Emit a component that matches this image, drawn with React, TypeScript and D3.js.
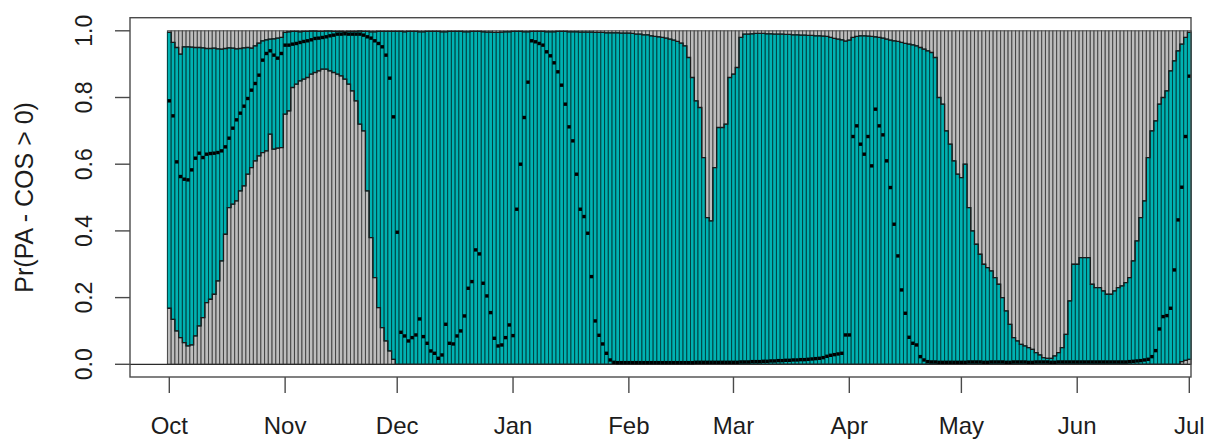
import React from 'react';
import * as d3 from 'd3';

// Daily values, 1 Oct -> 1 Jul (274 days)
const upper: number[] = [
  // Oct
  0.995, 0.965, 0.95, 0.93, 0.952, 0.952, 0.951, 0.95, 0.95, 0.949,
  0.947, 0.947, 0.948, 0.946, 0.945, 0.947, 0.949, 0.948, 0.946, 0.947,
  0.949, 0.95, 0.948, 0.955, 0.963, 0.97, 0.973, 0.975, 0.976, 0.978,
  0.98,
  // Nov
  0.995, 0.997, 0.998, 0.998, 0.997, 0.998, 0.998, 0.999, 0.999, 0.998,
  0.998, 0.999, 0.999, 0.998, 0.998, 0.998, 0.997, 0.998, 0.998, 0.998,
  0.999, 0.998, 0.998, 0.997, 0.997, 0.998, 0.998, 0.998, 0.998, 0.998,
  // Dec
  0.998, 0.998, 0.997, 0.998, 0.998, 0.998, 0.997, 0.997, 0.998, 0.998,
  0.998, 0.998, 0.997, 0.997, 0.998, 0.998, 0.998, 0.998, 0.997, 0.997,
  0.998, 0.998, 0.998, 0.997, 0.996, 0.996, 0.995, 0.995, 0.996, 0.997,
  0.997,
  // Jan
  0.998, 0.998, 0.998, 0.997, 0.997, 0.998, 0.998, 0.998, 0.998, 0.997,
  0.997, 0.997, 0.998, 0.998, 0.998, 0.997, 0.997, 0.997, 0.996, 0.996,
  0.996, 0.996, 0.995, 0.995, 0.995, 0.994, 0.994, 0.994, 0.994, 0.993,
  0.993,
  // Feb
  0.993, 0.992, 0.99, 0.99, 0.988, 0.988, 0.985, 0.983, 0.982, 0.98,
  0.978, 0.975, 0.972, 0.968, 0.963, 0.955, 0.92, 0.86, 0.79, 0.77,
  0.62, 0.44, 0.43, 0.59, 0.71, 0.71, 0.72, 0.86,
  // Mar
  0.87, 0.89, 0.98, 0.99, 0.99, 0.991, 0.992, 0.992, 0.992, 0.991,
  0.991, 0.99, 0.99, 0.99, 0.989, 0.989, 0.988, 0.988, 0.987, 0.987,
  0.986, 0.986, 0.985, 0.985, 0.984, 0.983, 0.98, 0.977, 0.975, 0.973,
  0.969,
  // Apr
  0.972, 0.98, 0.983, 0.985, 0.985, 0.984, 0.983, 0.982, 0.98, 0.978,
  0.975, 0.972, 0.97, 0.968, 0.965, 0.962, 0.96, 0.958, 0.955, 0.95,
  0.945, 0.94, 0.935, 0.92, 0.8, 0.78, 0.7, 0.66, 0.61, 0.57,
  // May
  0.56, 0.6, 0.47, 0.4, 0.36, 0.33, 0.3, 0.29, 0.28, 0.26,
  0.24, 0.2, 0.16, 0.12, 0.08, 0.07, 0.06, 0.055, 0.05, 0.045,
  0.035, 0.028, 0.02, 0.018, 0.018, 0.025, 0.035, 0.05, 0.09, 0.19,
  0.3,
  // Jun
  0.3, 0.32, 0.32, 0.32, 0.24, 0.23, 0.23, 0.22, 0.21, 0.21,
  0.22, 0.23, 0.235, 0.245, 0.26, 0.31, 0.37, 0.44, 0.49, 0.62,
  0.7, 0.73, 0.78, 0.8, 0.82, 0.88, 0.91, 0.94, 0.96, 0.98,
  // Jul
  0.995,
];

const lower: number[] = [
  // Oct
  0.168, 0.135, 0.1, 0.08, 0.065, 0.055, 0.058, 0.085, 0.115, 0.14,
  0.185, 0.195, 0.21, 0.25, 0.31, 0.39, 0.47, 0.48, 0.49, 0.52,
  0.535, 0.57, 0.59, 0.61, 0.625, 0.635, 0.64, 0.69, 0.645, 0.648,
  0.65,
  // Nov
  0.75, 0.76, 0.83, 0.84, 0.85, 0.855, 0.86, 0.87, 0.875, 0.88,
  0.885, 0.885, 0.88, 0.875, 0.87, 0.865, 0.855, 0.84, 0.82, 0.79,
  0.72, 0.7, 0.52, 0.38, 0.26, 0.17, 0.11, 0.07, 0.04, 0.015,
  // Dec
  0, 0, 0, 0, 0, 0, 0, 0, 0, 0, 0, 0, 0, 0, 0, 0, 0, 0, 0, 0, 0, 0, 0, 0, 0, 0, 0, 0, 0, 0, 0,
  // Jan
  0, 0, 0, 0, 0, 0, 0, 0, 0, 0, 0, 0, 0, 0, 0, 0, 0, 0, 0, 0, 0, 0, 0, 0, 0, 0, 0, 0, 0, 0, 0,
  // Feb
  0, 0, 0, 0, 0, 0, 0, 0, 0, 0, 0, 0, 0, 0, 0, 0, 0, 0, 0, 0, 0, 0, 0, 0, 0, 0, 0, 0,
  // Mar
  0, 0, 0, 0, 0, 0, 0, 0, 0, 0, 0, 0, 0, 0, 0, 0, 0, 0, 0, 0, 0, 0, 0, 0, 0, 0, 0, 0, 0, 0, 0,
  // Apr
  0, 0, 0, 0, 0, 0, 0, 0, 0, 0, 0, 0, 0, 0, 0, 0, 0, 0, 0, 0, 0, 0, 0, 0, 0, 0, 0, 0, 0, 0,
  // May
  0, 0, 0, 0, 0, 0, 0, 0, 0, 0, 0, 0, 0, 0, 0, 0, 0, 0, 0, 0, 0, 0, 0, 0, 0, 0, 0, 0, 0, 0, 0,
  // Jun
  0, 0, 0, 0, 0, 0, 0, 0, 0, 0, 0, 0, 0, 0, 0, 0, 0, 0, 0, 0, 0, 0, 0, 0, 0, 0, 0, 0, 0.008, 0.012,
  // Jul
  0.015,
];

const point: number[] = [
  // Oct
  0.79, 0.745, 0.607, 0.563, 0.555, 0.553, 0.583, 0.618, 0.633, 0.62,
  0.63, 0.632, 0.633, 0.635, 0.64, 0.652, 0.678, 0.708, 0.733, 0.753,
  0.774, 0.797, 0.822, 0.842, 0.867, 0.912, 0.932, 0.94, 0.927, 0.918,
  0.932,
  // Nov
  0.957, 0.957, 0.96, 0.962, 0.965, 0.968, 0.97, 0.973, 0.977, 0.978,
  0.98, 0.982, 0.985, 0.987, 0.99, 0.99, 0.991, 0.99, 0.99, 0.99,
  0.99, 0.987, 0.982, 0.978, 0.97, 0.962, 0.952, 0.927, 0.858, 0.742,
  // Dec
  0.396, 0.096, 0.085, 0.07, 0.08, 0.088, 0.136, 0.083, 0.063, 0.04,
  0.033, 0.018, 0.028, 0.12, 0.063, 0.061, 0.085, 0.1, 0.145, 0.228,
  0.248, 0.343, 0.331, 0.243, 0.205, 0.155, 0.078, 0.055, 0.058, 0.08,
  0.118,
  // Jan
  0.086, 0.465, 0.6, 0.74, 0.846, 0.97, 0.967, 0.962, 0.957, 0.937,
  0.925, 0.904, 0.877, 0.837, 0.78, 0.712, 0.67, 0.57, 0.465, 0.443,
  0.393, 0.263, 0.13, 0.087, 0.061, 0.033, 0.013, 0.006, 0.005, 0.005,
  0.005,
  // Feb
  0.005, 0.005, 0.005, 0.005, 0.005, 0.005, 0.005, 0.005, 0.005, 0.005,
  0.005, 0.005, 0.005, 0.005, 0.005, 0.005, 0.005, 0.005, 0.006, 0.006,
  0.006, 0.006, 0.006, 0.006, 0.006, 0.006, 0.006, 0.006,
  // Mar
  0.006, 0.006, 0.007, 0.007, 0.007, 0.008, 0.008, 0.008, 0.009, 0.009,
  0.01, 0.01, 0.011, 0.011, 0.012, 0.012, 0.013, 0.013, 0.014, 0.014,
  0.015, 0.016, 0.017, 0.018, 0.02, 0.024, 0.027, 0.029, 0.031, 0.033,
  0.088,
  // Apr
  0.088, 0.683, 0.715, 0.66, 0.63, 0.683, 0.595, 0.765, 0.715, 0.688,
  0.61, 0.53, 0.42, 0.325, 0.223, 0.153, 0.081, 0.063, 0.058, 0.023,
  0.013, 0.008, 0.007, 0.007, 0.006, 0.006, 0.006, 0.006, 0.006, 0.006,
  // May
  0.006, 0.006, 0.007, 0.007, 0.007, 0.007, 0.006, 0.006, 0.007, 0.007,
  0.007, 0.007, 0.006, 0.006, 0.007, 0.007, 0.007, 0.007, 0.006, 0.006,
  0.007, 0.007, 0.007, 0.007, 0.006, 0.006, 0.007, 0.007, 0.007, 0.007,
  0.007,
  // Jun
  0.007, 0.007, 0.007, 0.007, 0.007, 0.007, 0.007, 0.007, 0.007, 0.007,
  0.007, 0.007, 0.007, 0.007, 0.008, 0.009, 0.01, 0.011, 0.013, 0.015,
  0.023, 0.041, 0.106, 0.143, 0.146, 0.168, 0.283, 0.433, 0.531, 0.683,
  // Jul
  0.864,
];

const yTicks: number[] = [0, 0.2, 0.4, 0.6, 0.8, 1.0];
const yTitle = 'Pr(PA - COS > 0)';
const startDate = new Date(Date.UTC(2018, 9, 1));
const endDate = new Date(Date.UTC(2019, 6, 1));

const FONT = '"Liberation Sans", Arial, Helvetica, sans-serif';

export default function App() {
  const W = 1212;
  const H = 439;
  const box = { left: 130, right: 1191, top: 17.7, bottom: 377 };

  const x = d3.scaleUtc().domain([startDate, endDate]).range([169.3, 1189.3]);
  const y = d3.scaleLinear().domain([0, 1]).range([364.3, 30.8]);

  const days = d3.utcDay.range(startDate, d3.utcDay.offset(endDate, 1));
  const bw = x(d3.utcDay.offset(startDate, 1)) - x(startDate);
  const months = d3.utcMonth.range(startDate, d3.utcDay.offset(endDate, 1));
  const fmt = d3.utcFormat('%b');

  const stepPts = (vals: number[]) =>
    days.flatMap((d, i) => [
      [x(d) - bw / 2, y(vals[i])] as [number, number],
      [x(d) + bw / 2, y(vals[i])] as [number, number],
    ]);
  const line = d3.line();
  const upperPath = line(stepPts(upper)) || '';
  const lowerPath = line(stepPts(lower)) || '';

  const ds = 3.4;
  const axisColor = '#4a4a4a';
  const textColor = '#1c1c1c';

  return (
    <svg
      width={W}
      height={H}
      style={{ position: 'absolute', left: 0, top: 0, display: 'block', background: '#fff' }}
      fontFamily={FONT}
    >
      <rect x={0} y={0} width={W} height={H} fill="#ffffff" />
      {/* gray full-height bars */}
      <g>
        {days.map((d, i) => (
          <rect
            key={'g' + i}
            x={x(d) - bw / 2}
            y={y(1)}
            width={bw}
            height={y(0) - y(1)}
            fill="#bdbdbd"
            stroke="#454545"
            strokeWidth={1}
          />
        ))}
      </g>
      {/* teal interval bars */}
      <g>
        {days.map((d, i) => (
          <rect
            key={'t' + i}
            x={x(d) - bw / 2}
            y={y(upper[i])}
            width={bw}
            height={Math.max(0, y(lower[i]) - y(upper[i]))}
            fill="#00b2b2"
            stroke="#004444"
            strokeWidth={1}
          />
        ))}
      </g>
      {/* outlines of the band */}
      <path d={upperPath} fill="none" stroke="#1a1a1a" strokeWidth={1.3} />
      <path d={lowerPath} fill="none" stroke="#1a1a1a" strokeWidth={1.3} />
      {/* zero line */}
      <line x1={box.left} x2={box.right} y1={y(0)} y2={y(0)} stroke="#2a2a2a" strokeWidth={1.3} />
      {/* points */}
      <g>
        {days.map((d, i) => (
          <rect
            key={'p' + i}
            x={x(d) - ds / 2}
            y={y(point[i]) - ds / 2}
            width={ds}
            height={ds}
            fill="#000"
          />
        ))}
      </g>
      {/* box */}
      <rect
        x={box.left}
        y={box.top}
        width={box.right - box.left}
        height={box.bottom - box.top}
        fill="none"
        stroke={axisColor}
        strokeWidth={1.4}
      />
      {/* y axis */}
      <g>
        {yTicks.map((t) => (
          <g key={'yt' + t}>
            <line x1={box.left - 15} x2={box.left} y1={y(t)} y2={y(t)} stroke={axisColor} strokeWidth={1.4} />
            <text
              x={92}
              y={y(t)}
              transform={`rotate(-90, 92, ${y(t)})`}
              textAnchor="middle"
              fontSize={23}
              fill={textColor}
            >
              {t.toFixed(1)}
            </text>
          </g>
        ))}
        <text
          x={33}
          y={(box.top + box.bottom) / 2}
          transform={`rotate(-90, 33, ${(box.top + box.bottom) / 2})`}
          textAnchor="middle"
          fontSize={25}
          fill={textColor}
        >
          {yTitle}
        </text>
      </g>
      {/* x axis */}
      <g>
        {months.map((m, i) => (
          <g key={'xt' + i}>
            <line x1={x(m)} x2={x(m)} y1={box.bottom} y2={box.bottom + 16} stroke={axisColor} strokeWidth={1.4} />
            <text x={x(m)} y={434} textAnchor="middle" fontSize={24} fill={textColor}>
              {fmt(m)}
            </text>
          </g>
        ))}
      </g>
    </svg>
  );
}
